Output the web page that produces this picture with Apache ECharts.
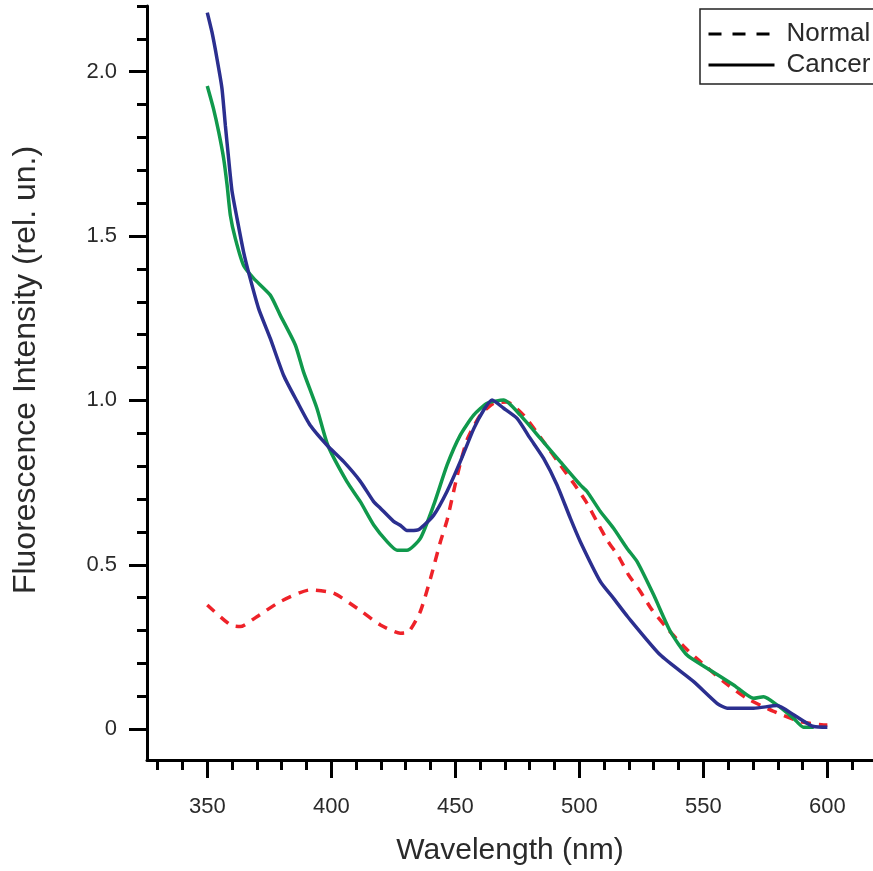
<!DOCTYPE html>
<html>
<head>
<meta charset="utf-8">
<script src="https://cdn.jsdelivr.net/npm/echarts@6/dist/echarts.min.js"></script>
<style>html,body{margin:0;padding:0;background:#fff}#chart{width:873px;height:871px}</style>
</head>
<body>
<div id="chart"></div>
<script>
// ---- data ----
const normalX = [350, 359.3, 363.3, 370, 379.4, 391.5, 400.9, 410.4, 419.8, 427.8, 431.2, 435.9, 440, 444, 446.7, 450.7, 454.7, 460.1, 465.4, 470.8, 477.5, 485.6, 492.3, 497.7, 503.1, 507.1, 511.2, 515.9, 519.9, 524.6, 529.3, 535.4, 542.1, 548.8, 558.2, 567.6, 578.4, 589.1, 598.5, 600];
const normalY = [0.373, 0.312, 0.307, 0.337, 0.383, 0.419, 0.409, 0.363, 0.312, 0.287, 0.291, 0.353, 0.454, 0.566, 0.632, 0.765, 0.876, 0.952, 0.988, 0.992, 0.952, 0.871, 0.80, 0.744, 0.683, 0.627, 0.571, 0.52, 0.464, 0.414, 0.358, 0.302, 0.246, 0.20, 0.139, 0.088, 0.048, 0.017, 0.007, 0.007];

const cancerGreenX = [350, 352.5, 354.6, 356.6, 358, 359.3, 361.3, 364.6, 368.7, 375.4, 379.4, 385.5, 388.8, 394.2, 398.6, 406.3, 411.7, 417.1, 422.5, 426.5, 430.5, 435.9, 441.3, 446.7, 452, 457.4, 462.8, 469.5, 476.2, 484.3, 492.3, 500.4, 503.1, 508.5, 513.8, 519.2, 523.3, 530, 536.7, 543.4, 551.5, 562.2, 570.3, 574.3, 579.7, 586.4, 590.4, 594.5];
const cancerGreenY = [1.956, 1.887, 1.816, 1.735, 1.653, 1.562, 1.491, 1.409, 1.369, 1.318, 1.257, 1.166, 1.084, 0.973, 0.86, 0.749, 0.688, 0.617, 0.566, 0.54, 0.54, 0.576, 0.678, 0.80, 0.891, 0.952, 0.988, 0.998, 0.952, 0.881, 0.81, 0.739, 0.719, 0.658, 0.607, 0.546, 0.505, 0.403, 0.292, 0.22, 0.18, 0.129, 0.088, 0.093, 0.068, 0.027, 0, 0];

const cancerBlueX = [350, 351.9, 353.9, 355.9, 357.3, 358.6, 360, 362, 364.6, 367.3, 370.7, 375.4, 380.8, 386.2, 391.5, 398.3, 405, 411.7, 417, 419.8, 425.1, 427.8, 430.5, 432, 435.5, 441.3, 446.7, 452, 457.4, 461.4, 464.8, 469.5, 474.9, 480.2, 485.6, 491, 496.4, 500.4, 508.5, 513.8, 519.5, 532.7, 546.1, 555.5, 559.6, 570.3, 579.7, 586.4, 594.5, 600];
const cancerBlueY = [2.18, 2.12, 2.04, 1.95, 1.835, 1.735, 1.634, 1.552, 1.451, 1.369, 1.277, 1.186, 1.073, 0.994, 0.921, 0.86, 0.81, 0.75, 0.689, 0.668, 0.628, 0.616, 0.60, 0.60, 0.604, 0.647, 0.72, 0.81, 0.91, 0.967, 0.998, 0.973, 0.942, 0.881, 0.82, 0.739, 0.637, 0.566, 0.444, 0.393, 0.337, 0.22, 0.139, 0.073, 0.058, 0.058, 0.066, 0.038, 0.002, 0];

// tick layout: [first, last, step]
const xMajorTicks = [350, 600, 50];
const xMinorTicks = [330, 610, 10];
const yMajorTicks = [0, 2.0, 0.5];
const yMinorTicks = [0, 2.2, 0.1];
const legendNames = ['Normal', 'Cancer'];

// ---- chart ----
const zip = (xs, ys) => xs.map((x, i) => [x, ys[i]]);
const FONT = 'Liberation Sans, Arial, Helvetica, sans-serif';
const TXT = '#2a2a2a';
const X_MIN = 325.7, X_MAX = 618.4, Y_MIN = -0.1, Y_MAX = 2.2;
const W = 873, H = 871;
const G = {left: 147, right: 0, top: 6, bottom: 109};
const plotW = W - G.left - G.right, plotH = H - G.top - G.bottom;
const px = v => G.left + (v - X_MIN) / (X_MAX - X_MIN) * plotW;
const py = v => G.top + (Y_MAX - v) / (Y_MAX - Y_MIN) * plotH;

const tickLine = {color: '#000', width: 3};
const hidden = (idx) => ({type: 'value', gridIndex: idx, show: false, min: 0, max: 1});

const chart = echarts.init(document.getElementById('chart'), null, {renderer: 'canvas'});

chart.setOption({
  animation: false,
  backgroundColor: '#fff',
  grid: [
    {left: G.left, right: G.right, top: G.top, bottom: G.bottom},
    {left: px(xMajorTicks[0]), width: px(xMajorTicks[1]) - px(xMajorTicks[0]), top: G.top, bottom: G.bottom},
    {left: px(xMinorTicks[0]), width: px(xMinorTicks[1]) - px(xMinorTicks[0]), top: G.top, bottom: G.bottom},
    {left: G.left, right: G.right, top: py(yMajorTicks[1]), height: py(yMajorTicks[0]) - py(yMajorTicks[1])},
    {left: G.left, right: G.right, top: py(yMinorTicks[1]), height: py(yMinorTicks[0]) - py(yMinorTicks[1])}
  ],
  legend: {
    orient: 'vertical',
    left: 700, top: 9,
    data: legendNames,
    itemWidth: 66, itemHeight: 14, itemGap: 5,
    padding: [12, 30, 6, 7],
    borderColor: '#222', borderWidth: 1.5,
    itemStyle: {opacity: 0},
    lineStyle: {width: 3},
    textStyle: {fontFamily: FONT, fontSize: 26, color: TXT, padding: [0, 0, 0, 7]},
    selectedMode: false
  },
  xAxis: [
    {type: 'value', gridIndex: 0, min: X_MIN, max: X_MAX,
      name: 'Wavelength (nm)', nameLocation: 'middle', nameGap: 76,
      nameTextStyle: {fontFamily: FONT, fontSize: 30, color: TXT},
      axisLine: {show: true, onZero: false, lineStyle: {color: '#000', width: 3}},
      axisTick: {show: false}, axisLabel: {show: false}, splitLine: {show: false}},
    {type: 'value', gridIndex: 1, min: xMajorTicks[0], max: xMajorTicks[1], interval: xMajorTicks[2], position: 'bottom',
      axisLine: {show: false, onZero: false},
      axisTick: {show: true, length: 16, lineStyle: tickLine},
      axisLabel: {show: true, margin: 34, fontFamily: FONT, fontSize: 22, color: TXT},
      splitLine: {show: false}},
    {type: 'value', gridIndex: 2, min: xMinorTicks[0], max: xMinorTicks[1], interval: xMinorTicks[2], position: 'bottom',
      axisLine: {show: false, onZero: false},
      axisTick: {show: true, length: 8, lineStyle: tickLine},
      axisLabel: {show: false}, splitLine: {show: false}},
    hidden(3), hidden(4)
  ],
  yAxis: [
    {type: 'value', gridIndex: 0, min: Y_MIN, max: Y_MAX,
      name: 'Fluorescence Intensity (rel. un.)', nameLocation: 'middle', nameGap: 105, nameRotate: 90,
      nameTextStyle: {fontFamily: FONT, fontSize: 32, color: TXT, padding: [0, 0, 0, 26]},
      axisLine: {show: true, onZero: false, lineStyle: {color: '#000', width: 3}},
      axisTick: {show: false}, axisLabel: {show: false}, splitLine: {show: false}},
    hidden(1), hidden(2),
    {type: 'value', gridIndex: 3, min: yMajorTicks[0], max: yMajorTicks[1], interval: yMajorTicks[2], position: 'left',
      axisLine: {show: false, onZero: false},
      axisTick: {show: true, length: 18, lineStyle: tickLine},
      axisLabel: {show: true, margin: 30, fontFamily: FONT, fontSize: 22, color: TXT,
        formatter: v => (v === 0 ? '0' : v.toFixed(1))},
      splitLine: {show: false}},
    {type: 'value', gridIndex: 4, min: yMinorTicks[0], max: yMinorTicks[1], interval: yMinorTicks[2], position: 'left',
      axisLine: {show: false, onZero: false},
      axisTick: {show: true, length: 10, lineStyle: tickLine},
      axisLabel: {show: false}, splitLine: {show: false}}
  ],
  series: [
    {name: 'Normal', type: 'line', data: [], symbol: 'none', showSymbol: false, color: '#000',
      lineStyle: {color: '#000', width: 3, type: [13, 11]}},
    {name: 'Cancer', type: 'line', data: [], symbol: 'none', showSymbol: false, color: '#000',
      lineStyle: {color: '#000', width: 3, type: 'solid'}},
    {name: 'Normal tissue', type: 'line', data: zip(normalX, normalY), symbol: 'none', smooth: 0.2,
      color: '#ee2229', lineStyle: {color: '#ee2229', width: 3.5, type: [10, 8]}, z: 2},
    {name: 'Cancer tissue A', type: 'line', data: zip(cancerGreenX, cancerGreenY), symbol: 'none', smooth: 0.2,
      color: '#10994c', lineStyle: {color: '#10994c', width: 3.5}, z: 3},
    {name: 'Cancer tissue B', type: 'line', data: zip(cancerBlueX, cancerBlueY), symbol: 'none', smooth: 0.2,
      color: '#2b2f8f', lineStyle: {color: '#2b2f8f', width: 3.5}, z: 4}
  ]
});
</script>
</body>
</html>
